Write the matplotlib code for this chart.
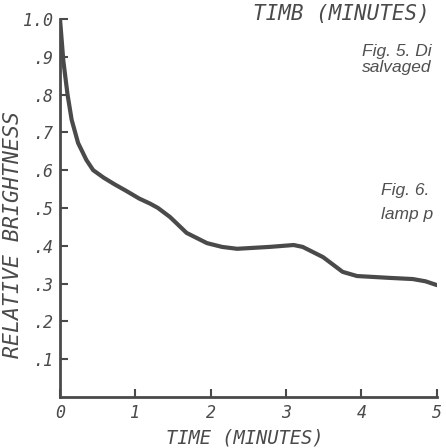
import matplotlib.pyplot as plt
import numpy as np

# curva de brillo relativo
tiempo = [0.0, 0.044, 0.10, 0.155, 0.24, 0.35, 0.44, 0.58, 0.72, 0.88,
          1.05, 1.2, 1.3, 1.46, 1.68, 1.95, 2.15, 2.35, 2.78, 3.1,
          3.22, 3.49, 3.75, 3.94, 4.38, 4.68, 4.85, 5.0]
brillo = [1.0, 0.89, 0.80, 0.733, 0.672, 0.627, 0.60, 0.58, 0.563, 0.545,
          0.525, 0.511, 0.50, 0.476, 0.434, 0.407, 0.397, 0.392, 0.397, 0.402,
          0.397, 0.37, 0.331, 0.32, 0.315, 0.312, 0.306, 0.296]

x_ticks = [0, 1, 2, 3, 4, 5]
x_labels = ['0', '1', '2', '3', '4', '5']
y_ticks = [0.1, 0.2, 0.3, 0.4, 0.5, 0.6, 0.7, 0.8, 0.9, 1.0]
y_labels = ['.1', '.2', '.3', '.4', '.5', '.6', '.7', '.8', '.9', '1.0']

gris = '#4a4a4a'
mano = dict(family='DejaVu Sans Mono', style='italic', color=gris)
impreso = dict(family='Liberation Sans', style='italic', color='#505050',
               fontsize=12.5, va='baseline')

fig = plt.figure(figsize=(4.46, 4.48), dpi=100)
ax = fig.add_axes([0.1345, 0.1138, 0.845, 0.844])

ax.plot(tiempo, brillo, color=gris, lw=3, solid_capstyle='round',
        solid_joinstyle='round')

ax.set_xlim(0, 5)
ax.set_ylim(0, 1.0)
for s in ['top', 'right']:
    ax.spines[s].set_visible(False)
for s in ['left', 'bottom']:
    ax.spines[s].set_color(gris)
    ax.spines[s].set_linewidth(2)

ax.set_xticks(x_ticks)
ax.set_xticklabels(x_labels, **mano, fontsize=12)
ax.set_yticks(y_ticks)
ax.set_yticklabels(y_labels, **mano, fontsize=12)
ax.tick_params(direction='in', length=6, width=1.5, color=gris, pad=5)

ax.set_xlabel('TIME (MINUTES)', **mano, fontsize=13.5)
ax.set_ylabel('RELATIVE BRIGHTNESS', **mano, fontsize=15.5)
ax.xaxis.set_label_coords(0.49, -0.083)
ax.yaxis.set_label_coords(-0.098, 0.43)

# textos de la pagina que aparecen recortados
fig.text(253 / 446, 1 - 14 / 448, 'TIMB (MINUTES)', **mano, fontsize=15, va='center')
fig.text(362 / 446, 1 - 56 / 448, 'Fig. 5. Di', **impreso)
fig.text(362 / 446, 1 - 72 / 448, 'salvaged', **impreso)
fig.text(381 / 446, 1 - 195 / 448, 'Fig. 6.', **impreso)
fig.text(381 / 446, 1 - 219 / 448, 'lamp p', **impreso)

fig.savefig('out.png', dpi=100)
